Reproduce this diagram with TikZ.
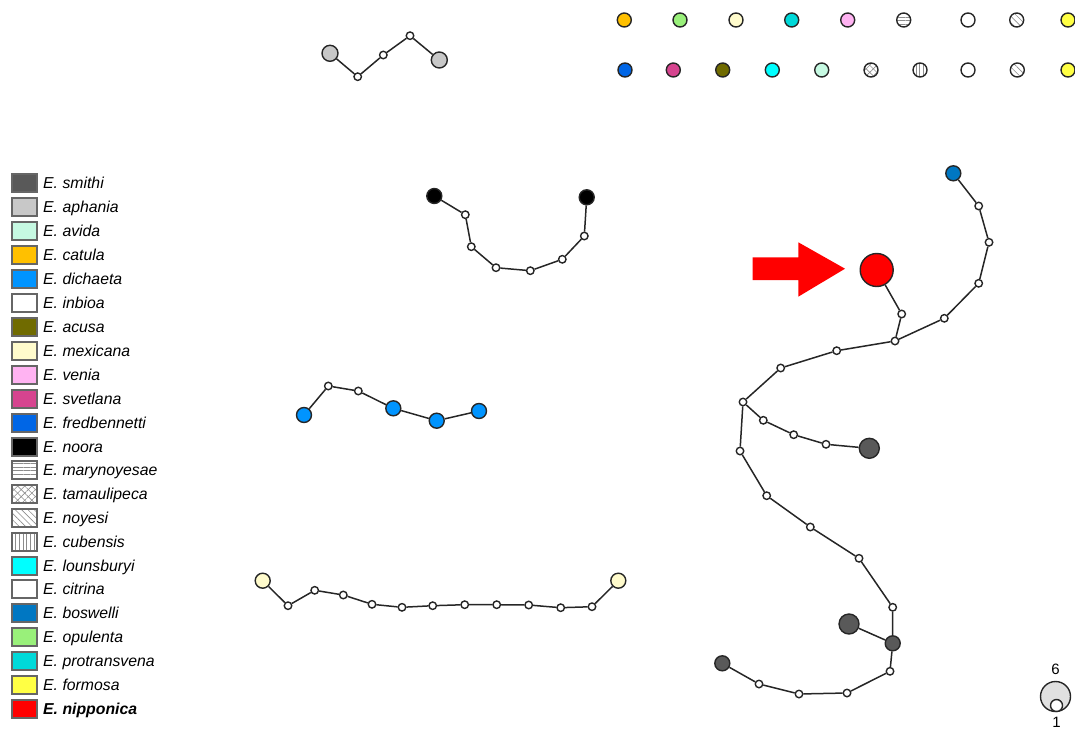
\documentclass[tikz,border=0pt]{standalone}
\usepackage{fontspec}
\setmainfont{Liberation Sans}
\usetikzlibrary{patterns.meta}

% species colours
\definecolor{csmithi}{HTML}{595959}
\definecolor{caphania}{HTML}{C8C8C8}
\definecolor{cavida}{HTML}{C6F9E2}
\definecolor{ccatula}{HTML}{FFC000}
\definecolor{cdichaeta}{HTML}{0094FF}
\definecolor{cacusa}{HTML}{706B00}
\definecolor{cmexicana}{HTML}{FFFBCC}
\definecolor{cvenia}{HTML}{FFB3F2}
\definecolor{csvetlana}{HTML}{D6448F}
\definecolor{cfred}{HTML}{0066E6}
\definecolor{clouns}{HTML}{00FFFF}
\definecolor{cboswelli}{HTML}{0077C2}
\definecolor{copulenta}{HTML}{99F07A}
\definecolor{cprotr}{HTML}{00D9D9}
\definecolor{cformosa}{HTML}{FFFF44}
\definecolor{cnippon}{HTML}{FF0000}
\definecolor{cscale}{HTML}{E0E0E0}

\tikzset{
  edge/.style={draw=black!85, line width=1.5pt},
  hap/.style={circle, draw=black!85, fill=white, line width=1.4pt, inner sep=0pt, minimum size=7.5pt},
  sample/.style={circle, draw=black!85, line width=1.4pt, inner sep=0pt, minimum size=#1},
  sample/.default=15pt,
  swatch/.style={rectangle, draw=black!60, line width=1.2pt, inner sep=0pt, minimum width=25pt, minimum height=18pt},
  legtext/.style={anchor=base west, inner sep=0pt, font=\fontsize{15.8}{18}\selectfont\itshape},
  hlines/.style={pattern={Lines[angle=0,distance=3.6pt,line width=0.6pt]}, pattern color=black!45},
  vlines/.style={pattern={Lines[angle=90,distance=3.8pt,line width=0.6pt]}, pattern color=black!45},
  dlines/.style={pattern={Lines[angle=-45,distance=4.5pt,line width=0.6pt]}, pattern color=black!45},
  xhatch/.style={preaction={pattern={Lines[angle=45,distance=5pt,line width=0.6pt]}, pattern color=black!45},
                 pattern={Lines[angle=-45,distance=5pt,line width=0.6pt]}, pattern color=black!45},
}

\begin{document}
\begin{tikzpicture}[x=1pt, y=-1pt]
\useasboundingbox (0,0) rectangle (1075,730);
\clip (0,0) rectangle (1075,730);

% ---- unconnected samples, top right ----
\node[sample=14pt, fill=ccatula]   (u1)  at (624.3,20) {};
\node[sample=14pt, fill=copulenta] (u2)  at (680,20) {};
\node[sample=14pt, fill=cmexicana] (u3)  at (736,20) {};
\node[sample=14pt, fill=cprotr]    (u4)  at (791.7,20) {};
\node[sample=14pt, fill=cvenia]    (u5)  at (847.7,20) {};
\node[sample=14pt, hlines]         (u6)  at (903.7,20) {};
\node[sample=14pt, fill=white]     (u7)  at (968,20) {};
\node[sample=14pt, dlines]         (u8)  at (1016.7,20) {};
\node[sample=14pt, fill=cformosa]  (u9)  at (1068,20) {};
\node[sample=14pt, fill=cfred]     (v1)  at (625,70) {};
\node[sample=14pt, fill=csvetlana] (v2)  at (673.3,70) {};
\node[sample=14pt, fill=cacusa]    (v3)  at (722.7,70) {};
\node[sample=14pt, fill=clouns]    (v4)  at (772.3,70) {};
\node[sample=14pt, fill=cavida]    (v5)  at (821.7,70) {};
\node[sample=14pt, xhatch]         (v6)  at (871,70) {};
\node[sample=14pt, vlines]         (v7)  at (920,70) {};
\node[sample=14pt, fill=white]     (v8)  at (968,70) {};
\node[sample=14pt, dlines]         (v9)  at (1017.3,70) {};
\node[sample=14pt, fill=cformosa]  (v10) at (1068,70) {};

% ---- E. aphania network ----
\node[sample=16pt, fill=caphania] (a1) at (330,53.3) {};
\node[hap] (a2) at (357.7,76.7) {};
\node[hap] (a3) at (383.3,55) {};
\node[hap] (a4) at (410,35.7) {};
\node[sample=16pt, fill=caphania] (a5) at (439.3,60) {};
\draw[edge] (a1) -- (a2) -- (a3) -- (a4) -- (a5);

% ---- E. noora network ----
\node[sample, fill=black] (n1) at (434.3,196) {};
\node[hap] (n2) at (465.3,214.7) {};
\node[hap] (n3) at (471.3,246.7) {};
\node[hap] (n4) at (496,267.7) {};
\node[hap] (n5) at (530.3,270.7) {};
\node[hap] (n6) at (562.3,259.3) {};
\node[hap] (n7) at (584.3,236) {};
\node[sample, fill=black] (n8) at (586.7,197.3) {};
\draw[edge] (n1) -- (n2) -- (n3) -- (n4) -- (n5) -- (n6) -- (n7) -- (n8);

% ---- E. dichaeta network ----
\node[sample, fill=cdichaeta] (d1) at (304,415) {};
\node[hap] (d2) at (328.3,386) {};
\node[hap] (d3) at (358.3,391) {};
\node[sample, fill=cdichaeta] (d4) at (393.3,408.3) {};
\node[sample, fill=cdichaeta] (d5) at (436.7,420.7) {};
\node[sample, fill=cdichaeta] (d6) at (479,411) {};
\draw[edge] (d1) -- (d2) -- (d3) -- (d4) -- (d5) -- (d6);

% ---- E. mexicana network ----
\node[sample, fill=cmexicana] (x1) at (262.7,580.7) {};
\node[hap] (x2)  at (288,605.7) {};
\node[hap] (x3)  at (314.7,590.3) {};
\node[hap] (x4)  at (343.3,595) {};
\node[hap] (x5)  at (372,604.3) {};
\node[hap] (x6)  at (402,607.3) {};
\node[hap] (x7)  at (432.7,605.7) {};
\node[hap] (x8)  at (464.7,604.7) {};
\node[hap] (x9)  at (496.7,604.7) {};
\node[hap] (x10) at (528.7,605) {};
\node[hap] (x11) at (560.7,607.7) {};
\node[hap] (x12) at (592,606.7) {};
\node[sample, fill=cmexicana] (x13) at (618.3,580.7) {};
\draw[edge] (x1) -- (x2) -- (x3) -- (x4) -- (x5) -- (x6) -- (x7) -- (x8)
  -- (x9) -- (x10) -- (x11) -- (x12) -- (x13);

% ---- E. smithi / boswelli / nipponica network ----
\node[sample, fill=cboswelli] (b0) at (953.3,173.3) {};
\node[hap] (m1) at (978.7,206) {};
\node[hap] (m2) at (989,242.3) {};
\node[hap] (m3) at (978.7,283.3) {};
\node[hap] (m4) at (944.3,318.3) {};
\node[hap] (m5) at (895,341) {};
\node[sample=33pt, fill=cnippon] (r0) at (876.7,270) {};
\node[hap] (m6) at (901.7,314) {};
\node[hap] (m7) at (836.7,350.7) {};
\node[hap] (m8) at (780.7,368) {};
\node[hap] (m9) at (743,402) {};
\node[hap] (m10) at (763.3,420.3) {};
\node[hap] (m11) at (793.7,434.7) {};
\node[hap] (m12) at (826,444.3) {};
\node[sample=20pt, fill=csmithi] (g1) at (869.3,448.3) {};
\node[hap] (m13) at (740,451) {};
\node[hap] (m14) at (766.7,495.7) {};
\node[hap] (m15) at (810.3,527) {};
\node[hap] (m16) at (859,558.3) {};
\node[hap] (m17) at (892.7,607.3) {};
\node[sample, fill=csmithi] (g2) at (892.7,643.3) {};
\node[sample=20pt, fill=csmithi] (g3) at (849,624) {};
\node[hap] (m18) at (890,671.3) {};
\node[hap] (m19) at (847,693) {};
\node[hap] (m20) at (799,694) {};
\node[hap] (m21) at (759,684) {};
\node[sample, fill=csmithi] (g4) at (722.3,663.3) {};
\draw[edge] (b0) -- (m1) -- (m2) -- (m3) -- (m4) -- (m5);
\draw[edge] (r0) -- (m6) -- (m5);
\draw[edge] (m5) -- (m7) -- (m8) -- (m9);
\draw[edge] (m9) -- (m10) -- (m11) -- (m12) -- (g1);
\draw[edge] (m9) -- (m13) -- (m14) -- (m15) -- (m16) -- (m17) -- (g2);
\draw[edge] (g3) -- (g2);
\draw[edge] (g2) -- (m18) -- (m19) -- (m20) -- (m21) -- (g4);

% red arrow pointing at E. nipponica
\fill[cnippon] (752.7,257.3) -- (798.3,257.3) -- (798.3,242.3) -- (845,268.7)
  -- (798.3,296.7) -- (798.3,280) -- (752.7,280) -- cycle;

% ---- circle size scale ----
\node[sample=30pt, fill=cscale] (s6) at (1055.5,696.5) {};
\node[sample=12pt, fill=white] (s1) at (1056.5,705.5) {};
\node[font=\fontsize{15}{17}\selectfont, inner sep=0pt] (l6) at (1055.5,669) {6};
\node[font=\fontsize{15}{17}\selectfont, inner sep=0pt] (l1) at (1056.5,722) {1};

% ---- legend ----
\node[swatch, fill=csmithi]   (k1)  at (24.5,183) {};
\node[legtext] (t1)  at (43,188.5) {E. smithi};
\node[swatch, fill=caphania]  (k2)  at (24.5,207) {};
\node[legtext] (t2)  at (43,212.5) {E. aphania};
\node[swatch, fill=cavida]    (k3)  at (24.5,231) {};
\node[legtext] (t3)  at (43,236.5) {E. avida};
\node[swatch, fill=ccatula]   (k4)  at (24.5,255) {};
\node[legtext] (t4)  at (43,260.5) {E. catula};
\node[swatch, fill=cdichaeta] (k5)  at (24.5,279) {};
\node[legtext] (t5)  at (43,284.5) {E. dichaeta};
\node[swatch, fill=white]     (k6)  at (24.5,303) {};
\node[legtext] (t6)  at (43,308.5) {E. inbioa};
\node[swatch, fill=cacusa]    (k7)  at (24.5,327) {};
\node[legtext] (t7)  at (43,332.5) {E. acusa};
\node[swatch, fill=cmexicana] (k8)  at (24.5,351) {};
\node[legtext] (t8)  at (43,356.5) {E. mexicana};
\node[swatch, fill=cvenia]    (k9)  at (24.5,375) {};
\node[legtext] (t9)  at (43,380.5) {E. venia};
\node[swatch, fill=csvetlana] (k10) at (24.5,399) {};
\node[legtext] (t10) at (43,404.5) {E. svetlana};
\node[swatch, fill=cfred]     (k11) at (24.5,423) {};
\node[legtext] (t11) at (43,428.5) {E. fredbennetti};
\node[swatch, fill=black]     (k12) at (24.5,447) {};
\node[legtext] (t12) at (43,452.5) {E. noora};
\node[swatch, hlines]         (k13) at (24.5,470) {};
\node[legtext] (t13) at (43,475.5) {E. marynoyesae};
\node[swatch, xhatch]         (k14) at (24.5,494) {};
\node[legtext] (t14) at (43,499.5) {E. tamaulipeca};
\node[swatch, dlines]         (k15) at (24.5,518) {};
\node[legtext] (t15) at (43,523.5) {E. noyesi};
\node[swatch, vlines]         (k16) at (24.5,542) {};
\node[legtext] (t16) at (43,547.5) {E. cubensis};
\node[swatch, fill=clouns]    (k17) at (24.5,566) {};
\node[legtext] (t17) at (43,571.5) {E. lounsburyi};
\node[swatch, fill=white]     (k18) at (24.5,589) {};
\node[legtext] (t18) at (43,594.5) {E. citrina};
\node[swatch, fill=cboswelli] (k19) at (24.5,613) {};
\node[legtext] (t19) at (43,618.5) {E. boswelli};
\node[swatch, fill=copulenta] (k20) at (24.5,637) {};
\node[legtext] (t20) at (43,642.5) {E. opulenta};
\node[swatch, fill=cprotr]    (k21) at (24.5,661) {};
\node[legtext] (t21) at (43,666.5) {E. protransvena};
\node[swatch, fill=cformosa]  (k22) at (24.5,685) {};
\node[legtext] (t22) at (43,690.5) {E. formosa};
\node[swatch, fill=cnippon]   (k23) at (24.5,709) {};
\node[legtext, font=\fontsize{15.8}{18}\selectfont\bfseries\itshape] (t23) at (43,714.5) {E. nipponica};
\end{tikzpicture}
\end{document}
